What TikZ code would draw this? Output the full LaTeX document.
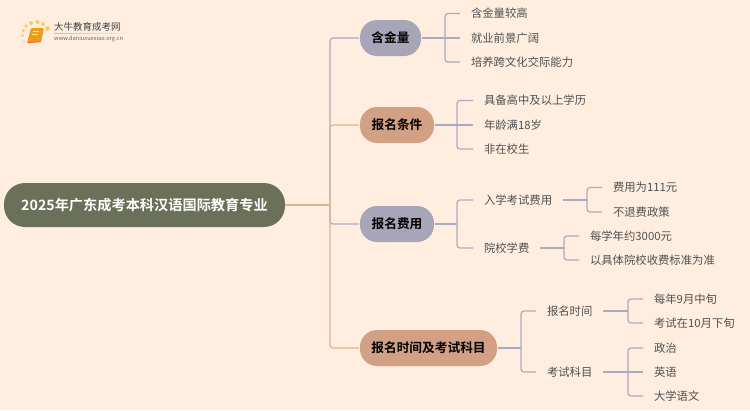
\documentclass[tikz,border=0pt]{standalone}
\usepackage{fontspec}
\setmainfont{Noto Sans CJK SC}[BoldFont={Noto Sans CJK SC Bold}]
\usetikzlibrary{shadings}
\definecolor{bgc}{HTML}{FFEEE0}
\definecolor{rootc}{HTML}{6B7158}
\definecolor{greyc}{HTML}{A6A6B8}
\definecolor{orc}{HTML}{D2A085}
\definecolor{lgrey}{HTML}{A9ABC4}
\definecolor{lor}{HTML}{DFB296}
\definecolor{txt}{HTML}{505050}
\definecolor{dotc}{HTML}{F9C868}
\definecolor{bookc}{HTML}{F09A20}
\tikzset{
 rootbox/.style={fill=rootc,rounded corners=21pt,minimum height=44pt,text=white,font=\fontsize{14.2}{16}\selectfont\bfseries,inner sep=0pt,outer sep=0pt},
 catbox/.style={rounded corners=17pt,minimum height=36pt,text=black,font=\fontsize{12.7}{15}\selectfont\bfseries,inner sep=0pt,outer sep=1pt},
 leaf/.style={anchor=west,text=txt,font=\fontsize{11.35}{13}\selectfont,inner xsep=11pt,inner ysep=0pt,outer sep=0pt,text height=10.5pt,text depth=2pt},
 gl/.style={draw=lgrey,line width=1.2pt,rounded corners=3pt},
 ol/.style={draw=lor,line width=1.2pt,rounded corners=3pt},
}
\begin{document}
\begin{tikzpicture}[x=1pt,y=-1pt]
\fill[bgc] (0,0) rectangle (750,410);
\useasboundingbox (0,0) rectangle (750,410);
% logo
\foreach \x/\y/\r in {22.5/35.5/1.3,23.5/30.5/1.6,26/26/1.8,31/23/2,37.5/22/2,43/24/2,47.5/28.5/2.4,24/41.5/1}
  \fill[dotc] (\x,\y) circle (\r);
\fill[bookc,rounded corners=1.2pt] (31,28) -- (44,28) -- (41,42) -- (27,43) -- cycle;
\draw[orange!70!red,line width=.8pt] (27.5,42.6) -- (41,41.6);
\fill[yellow!60!white] (33,31) rectangle (39,32);
\fill[yellow!60!white] (32.4,34) rectangle (38.4,35);
\node[inner sep=0pt,anchor=west,text=black!75,font=\fontsize{9.5}{11}\selectfont] (logotitle) at (54,27) {大牛教育成考网};
\node[inner sep=0pt,anchor=west,text=black!60,font=\fontsize{5.7}{7}\selectfont] (logourl) at (54,39) {www.daniuxuexiao.org.cn};
\shade[left color=black!25,right color=bgc] (54,33.2) rectangle (135,33.9);
% nodes
\node[rootbox,minimum width=281pt] (root) at (144.5,205) {2025年广东成考本科汉语国际教育专业};
\node[catbox,fill=greyc,minimum width=61pt] (b1) at (390.5,38) {含金量};
\node[catbox,fill=orc,minimum width=74pt] (b2) at (397,125) {报名条件};
\node[catbox,fill=greyc,minimum width=74pt] (b3) at (397,224) {报名费用};
\node[catbox,fill=orc,minimum width=137pt] (b4) at (428.5,348) {报名时间及考试科目};
\coordinate (hub) at (330,205);
\draw[gl] (hub) |- (b1.west);
\draw[gl] (hub) |- (b3.west);
\draw[ol] (hub) |- (b2.west);
\draw[ol] (hub) |- (b4.west);
\draw[ol] (root.east) -- (hub);
% b1
\node[leaf] (a1) at (460,13.5) {含金量较高};
\node[leaf] (a2) at (460,38) {就业前景广阔};
\node[leaf] (a3) at (460,62) {培养跨文化交际能力};
\coordinate (j1) at (445,38);
\draw[gl] (b1.east) -- (a2.west);
\draw[gl] (j1) |- (a1.west);
\draw[gl] (j1) |- (a3.west);
% b2
\node[leaf] (c1) at (473,100.5) {具备高中及以上学历};
\node[leaf] (c2) at (473,125) {年龄满18岁};
\node[leaf] (c3) at (473,149) {非在校生};
\coordinate (j2) at (457,125);
\draw[gl] (b2.east) -- (c2.west);
\draw[gl] (j2) |- (c1.west);
\draw[gl] (j2) |- (c3.west);
% b3
\node[leaf] (d1) at (473,200) {入学考试费用};
\node[leaf] (d2) at (473,248) {院校学费};
\coordinate (j3) at (457,224);
\draw[gl] (b3.east) -- (j3);
\draw[gl] (j3) |- (d1.west);
\draw[gl] (j3) |- (d2.west);
\node[leaf] (e1) at (602,187.5) {费用为111元};
\node[leaf] (e2) at (602,212) {不退费政策};
\coordinate (j4) at (587,200);
\draw[gl] (d1.east) -- (j4);
\draw[gl] (j4) |- (e1.west);
\draw[gl] (j4) |- (e2.west);
\node[leaf] (f1) at (579,236) {每学年约3000元};
\node[leaf] (f2) at (579,260) {以具体院校收费标准为准};
\coordinate (j5) at (564,248);
\draw[gl] (d2.east) -- (j5);
\draw[gl] (j5) |- (f1.west);
\draw[gl] (j5) |- (f2.west);
% b4
\node[leaf] (g1) at (536,311) {报名时间};
\node[leaf] (g2) at (536,372) {考试科目};
\coordinate (j6) at (521,348);
\draw[gl] (b4.east) -- (j6);
\draw[gl] (j6) |- (g1.west);
\draw[gl] (j6) |- (g2.west);
\node[leaf] (h1) at (643,299) {每年9月中旬};
\node[leaf] (h2) at (643,323) {考试在10月下旬};
\coordinate (j7) at (628,311);
\draw[gl] (g1.east) -- (j7);
\draw[gl] (j7) |- (h1.west);
\draw[gl] (j7) |- (h2.west);
\node[leaf] (k1) at (643,348) {政治};
\node[leaf] (k2) at (643,372) {英语};
\node[leaf] (k3) at (643,396) {大学语文};
\coordinate (j8) at (628,372);
\draw[gl] (g2.east) -- (k2.west);
\draw[gl] (j8) |- (k1.west);
\draw[gl] (j8) |- (k3.west);
\end{tikzpicture}
\end{document}
